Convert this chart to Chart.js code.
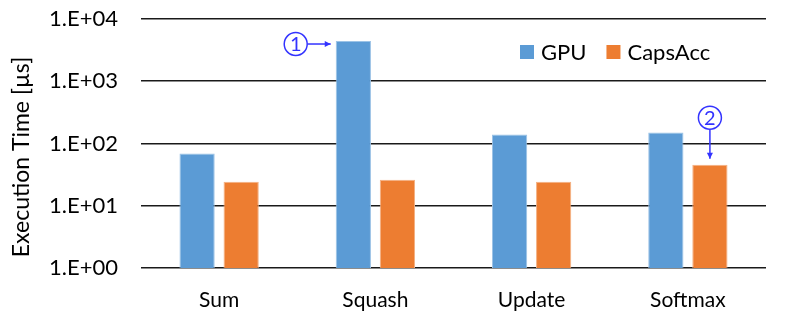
<!DOCTYPE html>
<html>
<head>
<meta charset="utf-8">
<script src="https://cdn.jsdelivr.net/npm/chart.js@4"></script>
<style>
  html,body{margin:0;padding:0;background:#fff;}
  #wrap{width:789px;height:317px;}
</style>
</head>
<body>
<div id="wrap"><canvas id="chart" width="789" height="317"></canvas></div>
<script>
// data
const categories = ['Sum','Squash','Update','Softmax'];
const gpuTimes = [69, 4430, 140, 150];
const capsAccTimes = [24.3, 26.2, 24.3, 45.6];
const tickValues = [1, 10, 100, 1000, 10000];
const yTitle = 'Execution Time [µs]';

const FONT = 'Lato, "Open Sans", sans-serif';
const BLUE = '#5B9BD5';
const ORANGE = '#ED7D31';
const NOTE = '#3333ff';

// axis title, legend inside the plot, circled notes with arrows
const overlay = {
  id:'overlay',
  afterDraw(chart){
    const ctx = chart.ctx;
    const area = chart.chartArea;
    ctx.save();
    // y title (sits a bit below the plot centre in the original)
    ctx.save();
    ctx.translate(22, 157);
    ctx.rotate(-Math.PI/2);
    ctx.font = '23px ' + FONT;
    ctx.fillStyle = '#000';
    ctx.textAlign = 'center';
    ctx.textBaseline = 'middle';
    ctx.fillText(yTitle, 0, 0);
    ctx.restore();

    // legend
    ctx.font = '22px ' + FONT;
    ctx.textBaseline = 'middle';
    ctx.textAlign = 'left';
    let lx = area.left + 379, ly = 52;
    chart.data.datasets.forEach(ds=>{
      ctx.fillStyle = ds.backgroundColor;
      ctx.fillRect(lx, ly-7, 14, 14);
      ctx.fillStyle = '#000';
      ctx.fillText(ds.label, lx+21, ly+1);
      lx += 21 + ctx.measureText(ds.label).width + 20;
    });

    function circleNum(cx, cy, txt){
      ctx.beginPath();
      ctx.arc(cx, cy, 11.5, 0, Math.PI*2);
      ctx.strokeStyle = NOTE;
      ctx.lineWidth = 1.5;
      ctx.stroke();
      ctx.fillStyle = NOTE;
      ctx.font = '20px ' + FONT;
      ctx.textAlign = 'center';
      ctx.textBaseline = 'middle';
      ctx.fillText(txt, cx, cy+1);
    }
    function arrow(x1,y1,x2,y2){
      ctx.strokeStyle = NOTE;
      ctx.fillStyle = NOTE;
      ctx.lineWidth = 1.5;
      ctx.beginPath(); ctx.moveTo(x1,y1); ctx.lineTo(x2,y2); ctx.stroke();
      const a = Math.atan2(y2-y1, x2-x1);
      ctx.beginPath();
      ctx.moveTo(x2,y2);
      ctx.lineTo(x2-6*Math.cos(a)+3*Math.sin(a), y2-6*Math.sin(a)-3*Math.cos(a));
      ctx.lineTo(x2-6*Math.cos(a)-3*Math.sin(a), y2-6*Math.sin(a)+3*Math.cos(a));
      ctx.closePath(); ctx.fill();
    }
    // note 1 -> Squash GPU bar
    const b1 = chart.getDatasetMeta(0).data[1];
    const x1 = b1.x - b1.width/2;
    circleNum(x1-40, b1.y+3, '1');
    arrow(x1-28, b1.y+3, x1-5, b1.y+3);
    // note 2 -> Softmax CapsAcc bar
    const b2 = chart.getDatasetMeta(1).data[3];
    circleNum(b2.x, b2.y-47, '2');
    arrow(b2.x, b2.y-35, b2.x, b2.y-6);
    ctx.restore();
  }
};

new Chart(document.getElementById('chart'), {
  type:'bar',
  data:{
    labels: categories,
    datasets:[
      {label:'GPU', data:gpuTimes, backgroundColor:BLUE, borderColor:'#9cc3e6', borderWidth:1},
      {label:'CapsAcc', data:capsAccTimes, backgroundColor:ORANGE, borderColor:'#f4b183', borderWidth:1}
    ]
  },
  options:{
    responsive:false,
    animation:false,
    layout:{padding:{top:19,right:23,bottom:0,left:0}},
    categoryPercentage:0.564,
    barPercentage:0.8,
    plugins:{legend:{display:false}, tooltip:{enabled:false}},
    scales:{
      x:{
        grid:{display:false},
        border:{display:false},
        ticks:{color:'#000', font:{family:FONT, size:21}, padding:12},
        afterFit(s){ s.height = 49; s.paddingLeft = 0; s.paddingRight = 0; }
      },
      y:{
        type:'logarithmic',
        min:1, max:10000,
        afterBuildTicks(s){ s.ticks = tickValues.map(v=>({value:v})); },
        grid:{color:'#1a1a1a', lineWidth:1.6, drawTicks:false},
        border:{display:false},
        ticks:{
          color:'#000', font:{family:FONT, size:22}, padding:23,
          callback: v => '1.E+' + String(Math.round(Math.log10(v))).padStart(2,'0')
        },
        afterFit(s){ s.width = 141; s.paddingTop = 0; s.paddingBottom = 0; }
      }
    }
  },
  plugins:[overlay]
});
</script>
</body>
</html>
